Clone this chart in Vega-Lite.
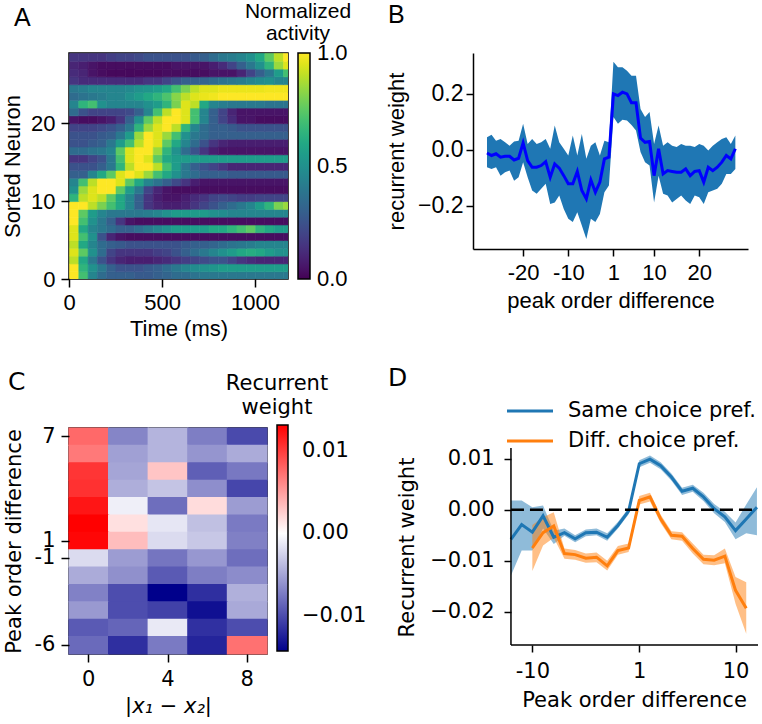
{
"$schema":"https://vega.github.io/schema/vega-lite/v6.json",
"background":"white",
"padding":{"left":0,"top":0,"right":0,"bottom":0},
"config":{"view":{"stroke":null},"axis":{"grid":false,"domainColor":"black","tickColor":"black","labelColor":"black","titleColor":"black","titleFontWeight":"normal","domainWidth":1.5,"tickWidth":1.5,"tickSize":8},"legend":{"labelColor":"black","titleColor":"black","titleFontWeight":"normal"},"title":{"color":"black","fontWeight":"normal"}},
"columns":3,
"spacing":{"row":149,"column":10},
"bounds":"flush",
"align":"each",
"concat":[
{"width":219,"height":226,
"view":{"stroke":"black","strokeWidth":1.5},
"title":{"text":"A","anchor":"start","frame":"group","font":"Liberation Sans","fontSize":25,"dx":-55,"dy":30,"offset":0},
"data":{"values":[
{"t":0,"n":0,"v":1},{"t":50,"n":0,"v":0.7},{"t":100,"n":0,"v":0.45},{"t":150,"n":0,"v":0.35},{"t":200,"n":0,"v":0.3},{"t":250,"n":0,"v":0.3},{"t":300,"n":0,"v":0.3},{"t":350,"n":0,"v":0.28},{"t":400,"n":0,"v":0.28},{"t":450,"n":0,"v":0.3},{"t":500,"n":0,"v":0.32},{"t":550,"n":0,"v":0.35},{"t":600,"n":0,"v":0.35},{"t":650,"n":0,"v":0.38},{"t":700,"n":0,"v":0.4},{"t":750,"n":0,"v":0.4},{"t":800,"n":0,"v":0.4},{"t":850,"n":0,"v":0.4},{"t":900,"n":0,"v":0.4},{"t":950,"n":0,"v":0.4},{"t":1000,"n":0,"v":0.4},{"t":1050,"n":0,"v":0.4},{"t":1100,"n":0,"v":0.4},{"t":1150,"n":0,"v":0.4},
{"t":0,"n":1,"v":1},{"t":50,"n":1,"v":0.65},{"t":100,"n":1,"v":0.5},{"t":150,"n":1,"v":0.4},{"t":200,"n":1,"v":0.3},{"t":250,"n":1,"v":0.25},{"t":300,"n":1,"v":0.25},{"t":350,"n":1,"v":0.25},{"t":400,"n":1,"v":0.28},{"t":450,"n":1,"v":0.3},{"t":500,"n":1,"v":0.35},{"t":550,"n":1,"v":0.4},{"t":600,"n":1,"v":0.45},{"t":650,"n":1,"v":0.48},{"t":700,"n":1,"v":0.5},{"t":750,"n":1,"v":0.52},{"t":800,"n":1,"v":0.55},{"t":850,"n":1,"v":0.55},{"t":900,"n":1,"v":0.55},{"t":950,"n":1,"v":0.55},{"t":1000,"n":1,"v":0.55},{"t":1050,"n":1,"v":0.55},{"t":1100,"n":1,"v":0.55},{"t":1150,"n":1,"v":0.55},
{"t":0,"n":2,"v":0.9},{"t":50,"n":2,"v":0.6},{"t":100,"n":2,"v":0.4},{"t":150,"n":2,"v":0.25},{"t":200,"n":2,"v":0.15},{"t":250,"n":2,"v":0.1},{"t":300,"n":2,"v":0.08},{"t":350,"n":2,"v":0.08},{"t":400,"n":2,"v":0.08},{"t":450,"n":2,"v":0.1},{"t":500,"n":2,"v":0.12},{"t":550,"n":2,"v":0.15},{"t":600,"n":2,"v":0.18},{"t":650,"n":2,"v":0.2},{"t":700,"n":2,"v":0.22},{"t":750,"n":2,"v":0.25},{"t":800,"n":2,"v":0.25},{"t":850,"n":2,"v":0.2},{"t":900,"n":2,"v":0.15},{"t":950,"n":2,"v":0.12},{"t":1000,"n":2,"v":0.1},{"t":1050,"n":2,"v":0.1},{"t":1100,"n":2,"v":0.1},{"t":1150,"n":2,"v":0.1},
{"t":0,"n":3,"v":0.95},{"t":50,"n":3,"v":0.75},{"t":100,"n":3,"v":0.5},{"t":150,"n":3,"v":0.35},{"t":200,"n":3,"v":0.2},{"t":250,"n":3,"v":0.15},{"t":300,"n":3,"v":0.15},{"t":350,"n":3,"v":0.15},{"t":400,"n":3,"v":0.15},{"t":450,"n":3,"v":0.18},{"t":500,"n":3,"v":0.2},{"t":550,"n":3,"v":0.25},{"t":600,"n":3,"v":0.3},{"t":650,"n":3,"v":0.35},{"t":700,"n":3,"v":0.4},{"t":750,"n":3,"v":0.45},{"t":800,"n":3,"v":0.5},{"t":850,"n":3,"v":0.55},{"t":900,"n":3,"v":0.6},{"t":950,"n":3,"v":0.62},{"t":1000,"n":3,"v":0.6},{"t":1050,"n":3,"v":0.55},{"t":1100,"n":3,"v":0.5},{"t":1150,"n":3,"v":0.5},
{"t":0,"n":4,"v":0.9},{"t":50,"n":4,"v":0.6},{"t":100,"n":4,"v":0.45},{"t":150,"n":4,"v":0.35},{"t":200,"n":4,"v":0.3},{"t":250,"n":4,"v":0.28},{"t":300,"n":4,"v":0.25},{"t":350,"n":4,"v":0.25},{"t":400,"n":4,"v":0.25},{"t":450,"n":4,"v":0.25},{"t":500,"n":4,"v":0.25},{"t":550,"n":4,"v":0.25},{"t":600,"n":4,"v":0.28},{"t":650,"n":4,"v":0.3},{"t":700,"n":4,"v":0.3},{"t":750,"n":4,"v":0.32},{"t":800,"n":4,"v":0.35},{"t":850,"n":4,"v":0.38},{"t":900,"n":4,"v":0.4},{"t":950,"n":4,"v":0.42},{"t":1000,"n":4,"v":0.45},{"t":1050,"n":4,"v":0.45},{"t":1100,"n":4,"v":0.45},{"t":1150,"n":4,"v":0.45},
{"t":0,"n":5,"v":0.95},{"t":50,"n":5,"v":0.7},{"t":100,"n":5,"v":0.5},{"t":150,"n":5,"v":0.25},{"t":200,"n":5,"v":0.1},{"t":250,"n":5,"v":0.05},{"t":300,"n":5,"v":0.03},{"t":350,"n":5,"v":0.03},{"t":400,"n":5,"v":0.03},{"t":450,"n":5,"v":0.03},{"t":500,"n":5,"v":0.03},{"t":550,"n":5,"v":0.03},{"t":600,"n":5,"v":0.03},{"t":650,"n":5,"v":0.03},{"t":700,"n":5,"v":0.03},{"t":750,"n":5,"v":0.03},{"t":800,"n":5,"v":0.03},{"t":850,"n":5,"v":0.03},{"t":900,"n":5,"v":0.03},{"t":950,"n":5,"v":0.03},{"t":1000,"n":5,"v":0.03},{"t":1050,"n":5,"v":0.03},{"t":1100,"n":5,"v":0.03},{"t":1150,"n":5,"v":0.03},
{"t":0,"n":6,"v":0.95},{"t":50,"n":6,"v":0.6},{"t":100,"n":6,"v":0.45},{"t":150,"n":6,"v":0.4},{"t":200,"n":6,"v":0.35},{"t":250,"n":6,"v":0.3},{"t":300,"n":6,"v":0.3},{"t":350,"n":6,"v":0.35},{"t":400,"n":6,"v":0.4},{"t":450,"n":6,"v":0.45},{"t":500,"n":6,"v":0.5},{"t":550,"n":6,"v":0.55},{"t":600,"n":6,"v":0.55},{"t":650,"n":6,"v":0.55},{"t":700,"n":6,"v":0.55},{"t":750,"n":6,"v":0.6},{"t":800,"n":6,"v":0.6},{"t":850,"n":6,"v":0.65},{"t":900,"n":6,"v":0.7},{"t":950,"n":6,"v":0.75},{"t":1000,"n":6,"v":0.65},{"t":1050,"n":6,"v":0.6},{"t":1100,"n":6,"v":0.55},{"t":1150,"n":6,"v":0.55},
{"t":0,"n":7,"v":1},{"t":50,"n":7,"v":0.7},{"t":100,"n":7,"v":0.5},{"t":150,"n":7,"v":0.4},{"t":200,"n":7,"v":0.3},{"t":250,"n":7,"v":0.15},{"t":300,"n":7,"v":0.05},{"t":350,"n":7,"v":0.03},{"t":400,"n":7,"v":0.03},{"t":450,"n":7,"v":0.03},{"t":500,"n":7,"v":0.03},{"t":550,"n":7,"v":0.03},{"t":600,"n":7,"v":0.03},{"t":650,"n":7,"v":0.03},{"t":700,"n":7,"v":0.03},{"t":750,"n":7,"v":0.03},{"t":800,"n":7,"v":0.03},{"t":850,"n":7,"v":0.03},{"t":900,"n":7,"v":0.03},{"t":950,"n":7,"v":0.03},{"t":1000,"n":7,"v":0.03},{"t":1050,"n":7,"v":0.03},{"t":1100,"n":7,"v":0.03},{"t":1150,"n":7,"v":0.03},
{"t":0,"n":8,"v":1},{"t":50,"n":8,"v":0.75},{"t":100,"n":8,"v":0.55},{"t":150,"n":8,"v":0.45},{"t":200,"n":8,"v":0.4},{"t":250,"n":8,"v":0.4},{"t":300,"n":8,"v":0.4},{"t":350,"n":8,"v":0.4},{"t":400,"n":8,"v":0.42},{"t":450,"n":8,"v":0.45},{"t":500,"n":8,"v":0.5},{"t":550,"n":8,"v":0.55},{"t":600,"n":8,"v":0.55},{"t":650,"n":8,"v":0.55},{"t":700,"n":8,"v":0.55},{"t":750,"n":8,"v":0.5},{"t":800,"n":8,"v":0.48},{"t":850,"n":8,"v":0.45},{"t":900,"n":8,"v":0.45},{"t":950,"n":8,"v":0.45},{"t":1000,"n":8,"v":0.45},{"t":1050,"n":8,"v":0.45},{"t":1100,"n":8,"v":0.45},{"t":1150,"n":8,"v":0.45},
{"t":0,"n":9,"v":1},{"t":50,"n":9,"v":1},{"t":100,"n":9,"v":0.9},{"t":150,"n":9,"v":0.8},{"t":200,"n":9,"v":0.7},{"t":250,"n":9,"v":0.6},{"t":300,"n":9,"v":0.45},{"t":350,"n":9,"v":0.3},{"t":400,"n":9,"v":0.15},{"t":450,"n":9,"v":0.1},{"t":500,"n":9,"v":0.08},{"t":550,"n":9,"v":0.08},{"t":600,"n":9,"v":0.1},{"t":650,"n":9,"v":0.15},{"t":700,"n":9,"v":0.2},{"t":750,"n":9,"v":0.25},{"t":800,"n":9,"v":0.3},{"t":850,"n":9,"v":0.35},{"t":900,"n":9,"v":0.4},{"t":950,"n":9,"v":0.45},{"t":1000,"n":9,"v":0.55},{"t":1050,"n":9,"v":0.65},{"t":1100,"n":9,"v":0.8},{"t":1150,"n":9,"v":0.85},
{"t":0,"n":10,"v":0.65},{"t":50,"n":10,"v":0.9},{"t":100,"n":10,"v":0.95},{"t":150,"n":10,"v":0.9},{"t":200,"n":10,"v":0.75},{"t":250,"n":10,"v":0.6},{"t":300,"n":10,"v":0.45},{"t":350,"n":10,"v":0.3},{"t":400,"n":10,"v":0.15},{"t":450,"n":10,"v":0.08},{"t":500,"n":10,"v":0.05},{"t":550,"n":10,"v":0.05},{"t":600,"n":10,"v":0.08},{"t":650,"n":10,"v":0.12},{"t":700,"n":10,"v":0.15},{"t":750,"n":10,"v":0.2},{"t":800,"n":10,"v":0.22},{"t":850,"n":10,"v":0.2},{"t":900,"n":10,"v":0.18},{"t":950,"n":10,"v":0.18},{"t":1000,"n":10,"v":0.2},{"t":1050,"n":10,"v":0.2},{"t":1100,"n":10,"v":0.2},{"t":1150,"n":10,"v":0.2},
{"t":0,"n":11,"v":0.5},{"t":50,"n":11,"v":0.85},{"t":100,"n":11,"v":0.95},{"t":150,"n":11,"v":1},{"t":200,"n":11,"v":1},{"t":250,"n":11,"v":0.75},{"t":300,"n":11,"v":0.55},{"t":350,"n":11,"v":0.4},{"t":400,"n":11,"v":0.2},{"t":450,"n":11,"v":0.1},{"t":500,"n":11,"v":0.05},{"t":550,"n":11,"v":0.03},{"t":600,"n":11,"v":0.03},{"t":650,"n":11,"v":0.03},{"t":700,"n":11,"v":0.03},{"t":750,"n":11,"v":0.03},{"t":800,"n":11,"v":0.03},{"t":850,"n":11,"v":0.03},{"t":900,"n":11,"v":0.03},{"t":950,"n":11,"v":0.03},{"t":1000,"n":11,"v":0.03},{"t":1050,"n":11,"v":0.03},{"t":1100,"n":11,"v":0.03},{"t":1150,"n":11,"v":0.03},
{"t":0,"n":12,"v":0.45},{"t":50,"n":12,"v":0.7},{"t":100,"n":12,"v":0.9},{"t":150,"n":12,"v":1},{"t":200,"n":12,"v":1},{"t":250,"n":12,"v":0.95},{"t":300,"n":12,"v":0.75},{"t":350,"n":12,"v":0.6},{"t":400,"n":12,"v":0.45},{"t":450,"n":12,"v":0.38},{"t":500,"n":12,"v":0.3},{"t":550,"n":12,"v":0.22},{"t":600,"n":12,"v":0.15},{"t":650,"n":12,"v":0.08},{"t":700,"n":12,"v":0.05},{"t":750,"n":12,"v":0.05},{"t":800,"n":12,"v":0.05},{"t":850,"n":12,"v":0.05},{"t":900,"n":12,"v":0.05},{"t":950,"n":12,"v":0.05},{"t":1000,"n":12,"v":0.05},{"t":1050,"n":12,"v":0.05},{"t":1100,"n":12,"v":0.05},{"t":1150,"n":12,"v":0.05},
{"t":0,"n":13,"v":0.3},{"t":50,"n":13,"v":0.3},{"t":100,"n":13,"v":0.45},{"t":150,"n":13,"v":0.6},{"t":200,"n":13,"v":0.75},{"t":250,"n":13,"v":0.95},{"t":300,"n":13,"v":1},{"t":350,"n":13,"v":0.95},{"t":400,"n":13,"v":0.85},{"t":450,"n":13,"v":0.7},{"t":500,"n":13,"v":0.6},{"t":550,"n":13,"v":0.5},{"t":600,"n":13,"v":0.4},{"t":650,"n":13,"v":0.35},{"t":700,"n":13,"v":0.3},{"t":750,"n":13,"v":0.3},{"t":800,"n":13,"v":0.3},{"t":850,"n":13,"v":0.28},{"t":900,"n":13,"v":0.28},{"t":950,"n":13,"v":0.28},{"t":1000,"n":13,"v":0.28},{"t":1050,"n":13,"v":0.28},{"t":1100,"n":13,"v":0.28},{"t":1150,"n":13,"v":0.28},
{"t":0,"n":14,"v":0.25},{"t":50,"n":14,"v":0.25},{"t":100,"n":14,"v":0.25},{"t":150,"n":14,"v":0.3},{"t":200,"n":14,"v":0.4},{"t":250,"n":14,"v":0.65},{"t":300,"n":14,"v":0.9},{"t":350,"n":14,"v":1},{"t":400,"n":14,"v":1},{"t":450,"n":14,"v":0.9},{"t":500,"n":14,"v":0.7},{"t":550,"n":14,"v":0.55},{"t":600,"n":14,"v":0.4},{"t":650,"n":14,"v":0.3},{"t":700,"n":14,"v":0.25},{"t":750,"n":14,"v":0.2},{"t":800,"n":14,"v":0.15},{"t":850,"n":14,"v":0.1},{"t":900,"n":14,"v":0.1},{"t":950,"n":14,"v":0.1},{"t":1000,"n":14,"v":0.1},{"t":1050,"n":14,"v":0.1},{"t":1100,"n":14,"v":0.1},{"t":1150,"n":14,"v":0.1},
{"t":0,"n":15,"v":0.15},{"t":50,"n":15,"v":0.15},{"t":100,"n":15,"v":0.2},{"t":150,"n":15,"v":0.25},{"t":200,"n":15,"v":0.4},{"t":250,"n":15,"v":0.7},{"t":300,"n":15,"v":0.95},{"t":350,"n":15,"v":1},{"t":400,"n":15,"v":0.95},{"t":450,"n":15,"v":0.75},{"t":500,"n":15,"v":0.6},{"t":550,"n":15,"v":0.55},{"t":600,"n":15,"v":0.55},{"t":650,"n":15,"v":0.55},{"t":700,"n":15,"v":0.55},{"t":750,"n":15,"v":0.55},{"t":800,"n":15,"v":0.55},{"t":850,"n":15,"v":0.55},{"t":900,"n":15,"v":0.55},{"t":950,"n":15,"v":0.55},{"t":1000,"n":15,"v":0.55},{"t":1050,"n":15,"v":0.55},{"t":1100,"n":15,"v":0.55},{"t":1150,"n":15,"v":0.55},
{"t":0,"n":16,"v":0.35},{"t":50,"n":16,"v":0.35},{"t":100,"n":16,"v":0.38},{"t":150,"n":16,"v":0.4},{"t":200,"n":16,"v":0.45},{"t":250,"n":16,"v":0.75},{"t":300,"n":16,"v":0.95},{"t":350,"n":16,"v":1},{"t":400,"n":16,"v":1},{"t":450,"n":16,"v":0.85},{"t":500,"n":16,"v":0.65},{"t":550,"n":16,"v":0.5},{"t":600,"n":16,"v":0.35},{"t":650,"n":16,"v":0.25},{"t":700,"n":16,"v":0.15},{"t":750,"n":16,"v":0.08},{"t":800,"n":16,"v":0.05},{"t":850,"n":16,"v":0.05},{"t":900,"n":16,"v":0.05},{"t":950,"n":16,"v":0.05},{"t":1000,"n":16,"v":0.05},{"t":1050,"n":16,"v":0.05},{"t":1100,"n":16,"v":0.05},{"t":1150,"n":16,"v":0.05},
{"t":0,"n":17,"v":0.25},{"t":50,"n":17,"v":0.25},{"t":100,"n":17,"v":0.28},{"t":150,"n":17,"v":0.3},{"t":200,"n":17,"v":0.4},{"t":250,"n":17,"v":0.55},{"t":300,"n":17,"v":0.7},{"t":350,"n":17,"v":0.9},{"t":400,"n":17,"v":1},{"t":450,"n":17,"v":0.95},{"t":500,"n":17,"v":0.75},{"t":550,"n":17,"v":0.6},{"t":600,"n":17,"v":0.45},{"t":650,"n":17,"v":0.35},{"t":700,"n":17,"v":0.25},{"t":750,"n":17,"v":0.15},{"t":800,"n":17,"v":0.1},{"t":850,"n":17,"v":0.08},{"t":900,"n":17,"v":0.08},{"t":950,"n":17,"v":0.08},{"t":1000,"n":17,"v":0.08},{"t":1050,"n":17,"v":0.08},{"t":1100,"n":17,"v":0.08},{"t":1150,"n":17,"v":0.08},
{"t":0,"n":18,"v":0.25},{"t":50,"n":18,"v":0.25},{"t":100,"n":18,"v":0.25},{"t":150,"n":18,"v":0.28},{"t":200,"n":18,"v":0.3},{"t":250,"n":18,"v":0.4},{"t":300,"n":18,"v":0.55},{"t":350,"n":18,"v":0.85},{"t":400,"n":18,"v":1},{"t":450,"n":18,"v":0.95},{"t":500,"n":18,"v":0.85},{"t":550,"n":18,"v":0.7},{"t":600,"n":18,"v":0.5},{"t":650,"n":18,"v":0.4},{"t":700,"n":18,"v":0.35},{"t":750,"n":18,"v":0.3},{"t":800,"n":18,"v":0.3},{"t":850,"n":18,"v":0.3},{"t":900,"n":18,"v":0.3},{"t":950,"n":18,"v":0.3},{"t":1000,"n":18,"v":0.3},{"t":1050,"n":18,"v":0.3},{"t":1100,"n":18,"v":0.3},{"t":1150,"n":18,"v":0.3},
{"t":0,"n":19,"v":0.2},{"t":50,"n":19,"v":0.2},{"t":100,"n":19,"v":0.2},{"t":150,"n":19,"v":0.22},{"t":200,"n":19,"v":0.25},{"t":250,"n":19,"v":0.3},{"t":300,"n":19,"v":0.4},{"t":350,"n":19,"v":0.65},{"t":400,"n":19,"v":0.85},{"t":450,"n":19,"v":0.95},{"t":500,"n":19,"v":1},{"t":550,"n":19,"v":0.9},{"t":600,"n":19,"v":0.65},{"t":650,"n":19,"v":0.45},{"t":700,"n":19,"v":0.35},{"t":750,"n":19,"v":0.3},{"t":800,"n":19,"v":0.3},{"t":850,"n":19,"v":0.28},{"t":900,"n":19,"v":0.25},{"t":950,"n":19,"v":0.25},{"t":1000,"n":19,"v":0.25},{"t":1050,"n":19,"v":0.25},{"t":1100,"n":19,"v":0.25},{"t":1150,"n":19,"v":0.25},
{"t":0,"n":20,"v":0.05},{"t":50,"n":20,"v":0.03},{"t":100,"n":20,"v":0.03},{"t":150,"n":20,"v":0.05},{"t":200,"n":20,"v":0.08},{"t":250,"n":20,"v":0.15},{"t":300,"n":20,"v":0.3},{"t":350,"n":20,"v":0.5},{"t":400,"n":20,"v":0.75},{"t":450,"n":20,"v":0.9},{"t":500,"n":20,"v":1},{"t":550,"n":20,"v":1},{"t":600,"n":20,"v":0.95},{"t":650,"n":20,"v":0.7},{"t":700,"n":20,"v":0.45},{"t":750,"n":20,"v":0.3},{"t":800,"n":20,"v":0.2},{"t":850,"n":20,"v":0.12},{"t":900,"n":20,"v":0.05},{"t":950,"n":20,"v":0.05},{"t":1000,"n":20,"v":0.03},{"t":1050,"n":20,"v":0.03},{"t":1100,"n":20,"v":0.03},{"t":1150,"n":20,"v":0.03},
{"t":0,"n":21,"v":0.35},{"t":50,"n":21,"v":0.25},{"t":100,"n":21,"v":0.2},{"t":150,"n":21,"v":0.2},{"t":200,"n":21,"v":0.2},{"t":250,"n":21,"v":0.2},{"t":300,"n":21,"v":0.22},{"t":350,"n":21,"v":0.3},{"t":400,"n":21,"v":0.45},{"t":450,"n":21,"v":0.7},{"t":500,"n":21,"v":0.9},{"t":550,"n":21,"v":1},{"t":600,"n":21,"v":0.95},{"t":650,"n":21,"v":0.7},{"t":700,"n":21,"v":0.45},{"t":750,"n":21,"v":0.3},{"t":800,"n":21,"v":0.2},{"t":850,"n":21,"v":0.1},{"t":900,"n":21,"v":0.05},{"t":950,"n":21,"v":0.05},{"t":1000,"n":21,"v":0.05},{"t":1050,"n":21,"v":0.05},{"t":1100,"n":21,"v":0.05},{"t":1150,"n":21,"v":0.05},
{"t":0,"n":22,"v":0.45},{"t":50,"n":22,"v":0.65},{"t":100,"n":22,"v":0.7},{"t":150,"n":22,"v":0.5},{"t":200,"n":22,"v":0.45},{"t":250,"n":22,"v":0.45},{"t":300,"n":22,"v":0.45},{"t":350,"n":22,"v":0.45},{"t":400,"n":22,"v":0.5},{"t":450,"n":22,"v":0.55},{"t":500,"n":22,"v":0.65},{"t":550,"n":22,"v":0.8},{"t":600,"n":22,"v":0.95},{"t":650,"n":22,"v":0.9},{"t":700,"n":22,"v":0.6},{"t":750,"n":22,"v":0.45},{"t":800,"n":22,"v":0.42},{"t":850,"n":22,"v":0.4},{"t":900,"n":22,"v":0.4},{"t":950,"n":22,"v":0.4},{"t":1000,"n":22,"v":0.4},{"t":1050,"n":22,"v":0.38},{"t":1100,"n":22,"v":0.38},{"t":1150,"n":22,"v":0.38},
{"t":0,"n":23,"v":0.35},{"t":50,"n":23,"v":0.38},{"t":100,"n":23,"v":0.4},{"t":150,"n":23,"v":0.42},{"t":200,"n":23,"v":0.45},{"t":250,"n":23,"v":0.45},{"t":300,"n":23,"v":0.5},{"t":350,"n":23,"v":0.55},{"t":400,"n":23,"v":0.6},{"t":450,"n":23,"v":0.65},{"t":500,"n":23,"v":0.72},{"t":550,"n":23,"v":0.82},{"t":600,"n":23,"v":0.9},{"t":650,"n":23,"v":0.95},{"t":700,"n":23,"v":0.97},{"t":750,"n":23,"v":0.98},{"t":800,"n":23,"v":1},{"t":850,"n":23,"v":1},{"t":900,"n":23,"v":1},{"t":950,"n":23,"v":1},{"t":1000,"n":23,"v":1},{"t":1050,"n":23,"v":1},{"t":1100,"n":23,"v":1},{"t":1150,"n":23,"v":1},
{"t":0,"n":24,"v":0.4},{"t":50,"n":24,"v":0.42},{"t":100,"n":24,"v":0.45},{"t":150,"n":24,"v":0.45},{"t":200,"n":24,"v":0.45},{"t":250,"n":24,"v":0.45},{"t":300,"n":24,"v":0.47},{"t":350,"n":24,"v":0.5},{"t":400,"n":24,"v":0.52},{"t":450,"n":24,"v":0.55},{"t":500,"n":24,"v":0.6},{"t":550,"n":24,"v":0.7},{"t":600,"n":24,"v":0.8},{"t":650,"n":24,"v":0.9},{"t":700,"n":24,"v":0.95},{"t":750,"n":24,"v":0.95},{"t":800,"n":24,"v":0.97},{"t":850,"n":24,"v":0.97},{"t":900,"n":24,"v":0.97},{"t":950,"n":24,"v":0.97},{"t":1000,"n":24,"v":0.97},{"t":1050,"n":24,"v":0.98},{"t":1100,"n":24,"v":0.98},{"t":1150,"n":24,"v":0.98},
{"t":0,"n":25,"v":0.15},{"t":50,"n":25,"v":0.12},{"t":100,"n":25,"v":0.12},{"t":150,"n":25,"v":0.12},{"t":200,"n":25,"v":0.12},{"t":250,"n":25,"v":0.12},{"t":300,"n":25,"v":0.12},{"t":350,"n":25,"v":0.12},{"t":400,"n":25,"v":0.15},{"t":450,"n":25,"v":0.15},{"t":500,"n":25,"v":0.2},{"t":550,"n":25,"v":0.25},{"t":600,"n":25,"v":0.3},{"t":650,"n":25,"v":0.3},{"t":700,"n":25,"v":0.32},{"t":750,"n":25,"v":0.35},{"t":800,"n":25,"v":0.38},{"t":850,"n":25,"v":0.4},{"t":900,"n":25,"v":0.42},{"t":950,"n":25,"v":0.45},{"t":1000,"n":25,"v":0.48},{"t":1050,"n":25,"v":0.5},{"t":1100,"n":25,"v":0.45},{"t":1150,"n":25,"v":0.45},
{"t":0,"n":26,"v":0.12},{"t":50,"n":26,"v":0.1},{"t":100,"n":26,"v":0.05},{"t":150,"n":26,"v":0.03},{"t":200,"n":26,"v":0.02},{"t":250,"n":26,"v":0.02},{"t":300,"n":26,"v":0.02},{"t":350,"n":26,"v":0.02},{"t":400,"n":26,"v":0.02},{"t":450,"n":26,"v":0.02},{"t":500,"n":26,"v":0.03},{"t":550,"n":26,"v":0.03},{"t":600,"n":26,"v":0.03},{"t":650,"n":26,"v":0.03},{"t":700,"n":26,"v":0.03},{"t":750,"n":26,"v":0.05},{"t":800,"n":26,"v":0.05},{"t":850,"n":26,"v":0.05},{"t":900,"n":26,"v":0.1},{"t":950,"n":26,"v":0.2},{"t":1000,"n":26,"v":0.3},{"t":1050,"n":26,"v":0.4},{"t":1100,"n":26,"v":0.55},{"t":1150,"n":26,"v":0.7},
{"t":0,"n":27,"v":0.1},{"t":50,"n":27,"v":0.08},{"t":100,"n":27,"v":0.05},{"t":150,"n":27,"v":0.03},{"t":200,"n":27,"v":0.03},{"t":250,"n":27,"v":0.03},{"t":300,"n":27,"v":0.03},{"t":350,"n":27,"v":0.03},{"t":400,"n":27,"v":0.03},{"t":450,"n":27,"v":0.03},{"t":500,"n":27,"v":0.03},{"t":550,"n":27,"v":0.05},{"t":600,"n":27,"v":0.05},{"t":650,"n":27,"v":0.05},{"t":700,"n":27,"v":0.05},{"t":750,"n":27,"v":0.08},{"t":800,"n":27,"v":0.12},{"t":850,"n":27,"v":0.2},{"t":900,"n":27,"v":0.3},{"t":950,"n":27,"v":0.4},{"t":1000,"n":27,"v":0.5},{"t":1050,"n":27,"v":0.65},{"t":1100,"n":27,"v":0.85},{"t":1150,"n":27,"v":0.95},
{"t":0,"n":28,"v":0.15},{"t":50,"n":28,"v":0.15},{"t":100,"n":28,"v":0.15},{"t":150,"n":28,"v":0.15},{"t":200,"n":28,"v":0.18},{"t":250,"n":28,"v":0.2},{"t":300,"n":28,"v":0.2},{"t":350,"n":28,"v":0.22},{"t":400,"n":28,"v":0.25},{"t":450,"n":28,"v":0.25},{"t":500,"n":28,"v":0.25},{"t":550,"n":28,"v":0.25},{"t":600,"n":28,"v":0.25},{"t":650,"n":28,"v":0.28},{"t":700,"n":28,"v":0.3},{"t":750,"n":28,"v":0.35},{"t":800,"n":28,"v":0.4},{"t":850,"n":28,"v":0.42},{"t":900,"n":28,"v":0.45},{"t":950,"n":28,"v":0.5},{"t":1000,"n":28,"v":0.6},{"t":1050,"n":28,"v":0.75},{"t":1100,"n":28,"v":0.9},{"t":1150,"n":28,"v":1}
]},
"mark":{"type":"rect","clip":true,"strokeWidth":0.6},
"encoding":{
"x":{"field":"t","type":"quantitative","bin":{"binned":true,"step":50},"scale":{"domain":[0,1177],"nice":false,"zero":false},"axis":{"domain":false,"values":[0,500,1000],"format":"d","title":"Time (ms)","labelFont":"Liberation Sans","titleFont":"Liberation Sans","labelFontSize":22,"titleFontSize":22,"labelPadding":5,"titlePadding":5,"labelFlush":false}},
"y":{"field":"n","type":"quantitative","bin":{"binned":true,"step":1},"scale":{"domain":[0,29],"nice":false,"zero":false},"axis":{"domain":false,"values":[0,10,20],"format":"d","title":"Sorted Neuron","labelFont":"Liberation Sans","titleFont":"Liberation Sans","labelFontSize":22,"titleFontSize":22,"labelPadding":6,"titlePadding":6,"labelFlush":false}},
"color":{"field":"v","type":"quantitative","scale":{"scheme":"viridis","domain":[0,1]},"legend":{"orient":"none","legendX":176,"legendY":-52,"direction":"vertical","gradientLength":226,"gradientThickness":12,"gradientStrokeColor":"black","gradientStrokeWidth":1.5,"values":[0.0001,0.5,0.9999],"format":".1f","labelFont":"Liberation Sans","labelFontSize":22,"labelOffset":7,"title":["Normalized","activity"],"titleFont":"Liberation Sans","titleFontSize":21,"titleAlign":"center","titleAnchor":"start","titlePadding":9,"titleLineHeight":22}},
"stroke":{"field":"v","type":"quantitative","scale":{"scheme":"viridis","domain":[0,1]},"legend":null}
}},
{"width":165,"height":10,"data":{"values":[]},"mark":"point"},
{"width":275,"height":196,
"title":{"text":"B","anchor":"start","frame":"group","font":"Liberation Sans","fontSize":25,"dx":-85,"dy":-25,"offset":0},
"data":{"values":[
{"p":-28,"m":-0.011,"lo":-0.062,"hi":0.045},{"p":-27,"m":-0.02,"lo":-0.068,"hi":0.054},{"p":-26,"m":-0.014,"lo":-0.062,"hi":0.033},{"p":-25,"m":-0.026,"lo":-0.092,"hi":0.039},{"p":-24,"m":-0.023,"lo":-0.08,"hi":0.027},{"p":-23,"m":-0.023,"lo":-0.074,"hi":0.015},{"p":-22,"m":-0.036,"lo":-0.11,"hi":0.03},{"p":-21,"m":-0.03,"lo":-0.098,"hi":0.033},{"p":-20,"m":0.025,"lo":-0.044,"hi":0.093},{"p":-19,"m":-0.038,"lo":-0.098,"hi":0.021},{"p":-18,"m":-0.062,"lo":-0.145,"hi":0.039},{"p":-17,"m":-0.062,"lo":-0.157,"hi":0.021},{"p":-16,"m":-0.056,"lo":-0.139,"hi":0.027},{"p":-15,"m":-0.042,"lo":-0.121,"hi":0.039},{"p":-14,"m":-0.098,"lo":-0.193,"hi":0.004},{"p":-13,"m":-0.05,"lo":-0.188,"hi":0.087},{"p":-12,"m":-0.065,"lo":-0.163,"hi":0.027},{"p":-11,"m":-0.092,"lo":-0.211,"hi":0.004},{"p":-10,"m":-0.121,"lo":-0.246,"hi":-0.02},{"p":-9,"m":-0.121,"lo":-0.258,"hi":0.051},{"p":-8,"m":-0.077,"lo":-0.223,"hi":-0.02},{"p":-7,"m":-0.145,"lo":-0.27,"hi":0.057},{"p":-6,"m":-0.175,"lo":-0.318,"hi":-0.032},{"p":-5,"m":-0.107,"lo":-0.246,"hi":0.015},{"p":-4,"m":-0.151,"lo":-0.258,"hi":0.027},{"p":-3,"m":-0.115,"lo":-0.229,"hi":-0.02},{"p":-2,"m":-0.032,"lo":-0.151,"hi":0.033},{"p":-1,"m":-0.026,"lo":-0.127,"hi":0.027},{"p":0,"m":0.2,"lo":0.117,"hi":0.315},{"p":1,"m":0.194,"lo":0.093,"hi":0.295},{"p":2,"m":0.206,"lo":0.108,"hi":0.295},{"p":3,"m":0.2,"lo":0.105,"hi":0.283},{"p":4,"m":0.168,"lo":0.089,"hi":0.265},{"p":5,"m":0.168,"lo":0.069,"hi":0.265},{"p":6,"m":0.042,"lo":-0.008,"hi":0.146},{"p":7,"m":0.027,"lo":-0.044,"hi":0.117},{"p":8,"m":0.03,"lo":-0.056,"hi":0.135},{"p":9,"m":-0.092,"lo":-0.188,"hi":0.021},{"p":10,"m":0.004,"lo":-0.092,"hi":0.087},{"p":11,"m":-0.086,"lo":-0.157,"hi":0.015},{"p":12,"m":-0.074,"lo":-0.163,"hi":0.027},{"p":13,"m":-0.077,"lo":-0.188,"hi":0.015},{"p":14,"m":-0.08,"lo":-0.175,"hi":0.01},{"p":15,"m":-0.08,"lo":-0.163,"hi":0.021},{"p":16,"m":-0.068,"lo":-0.181,"hi":0.015},{"p":17,"m":-0.092,"lo":-0.193,"hi":0.015},{"p":18,"m":-0.077,"lo":-0.163,"hi":0.01},{"p":19,"m":-0.074,"lo":-0.169,"hi":0.021},{"p":20,"m":-0.115,"lo":-0.193,"hi":0.015},{"p":21,"m":-0.062,"lo":-0.151,"hi":-0.002},{"p":22,"m":-0.074,"lo":-0.145,"hi":0.015},{"p":23,"m":-0.062,"lo":-0.139,"hi":0.027},{"p":24,"m":-0.044,"lo":-0.121,"hi":0.039},{"p":25,"m":-0.02,"lo":-0.086,"hi":0.045},{"p":26,"m":-0.032,"lo":-0.086,"hi":0.021},{"p":27,"m":0.004,"lo":-0.068,"hi":0.051}
]},
"encoding":{"x":{"field":"p","type":"quantitative","scale":{"domain":[-31.1,29.8],"nice":false,"zero":false},"axis":{"values":[-20,-10,0,9,19],"labelExpr":"datum.value >= 0 ? datum.value + 1 : datum.value","title":"peak order difference","labelFont":"Liberation Sans","titleFont":"Liberation Sans","labelFontSize":22,"titleFontSize":22,"tickSize":7,"labelPadding":6,"titlePadding":7,"labelFlush":false}}},
"layer":[
{"mark":{"type":"area","color":"#1f77b4","opacity":1},"encoding":{"y":{"field":"lo","type":"quantitative","scale":{"domain":[-0.354,0.346],"nice":false,"zero":false},"axis":{"values":[-0.2,0,0.2],"format":".1f","title":"recurrent weight","labelFont":"Liberation Sans","titleFont":"Liberation Sans","labelFontSize":23,"titleFontSize":22,"tickSize":7,"labelPadding":3,"titlePadding":9,"labelFlush":false}},"y2":{"field":"hi"}}},
{"mark":{"type":"line","color":"#0000ff","strokeWidth":3},"encoding":{"y":{"field":"m","type":"quantitative"}}}
]},
{"width":198,"height":226,
"view":{"stroke":"black","strokeWidth":1.5},
"title":{"text":"C","anchor":"start","frame":"group","font":"DejaVu Sans","fontSize":25,"dx":-61,"dy":22,"offset":0},
"data":{"values":[
{"x":0,"y":7,"w":0.0077},{"x":2,"y":7,"w":-0.0068},{"x":4,"y":7,"w":-0.0042},{"x":6,"y":7,"w":-0.0072},{"x":8,"y":7,"w":-0.0101},
{"x":0,"y":6,"w":0.0069},{"x":2,"y":6,"w":-0.0053},{"x":4,"y":6,"w":-0.0042},{"x":6,"y":6,"w":-0.0059},{"x":8,"y":6,"w":-0.0047},
{"x":0,"y":5,"w":0.0104},{"x":2,"y":5,"w":-0.005},{"x":4,"y":5,"w":0.003},{"x":6,"y":5,"w":-0.0089},{"x":8,"y":5,"w":-0.0075},
{"x":0,"y":4,"w":0.0106},{"x":2,"y":4,"w":-0.0045},{"x":4,"y":4,"w":-0.0033},{"x":6,"y":4,"w":-0.0063},{"x":8,"y":4,"w":-0.0103},
{"x":0,"y":3,"w":0.012},{"x":2,"y":3,"w":-0.0009},{"x":4,"y":3,"w":-0.0081},{"x":6,"y":3,"w":0.0018},{"x":8,"y":3,"w":-0.0055},
{"x":0,"y":2,"w":0.0131},{"x":2,"y":2,"w":0.0016},{"x":4,"y":2,"w":-0.0014},{"x":6,"y":2,"w":-0.0035},{"x":8,"y":2,"w":-0.0074},
{"x":0,"y":1,"w":0.0128},{"x":2,"y":1,"w":0.0034},{"x":4,"y":1,"w":-0.002},{"x":6,"y":1,"w":-0.0031},{"x":8,"y":1,"w":-0.0071},
{"x":0,"y":-1,"w":-0.002},{"x":2,"y":-1,"w":-0.0055},{"x":4,"y":-1,"w":-0.0077},{"x":6,"y":-1,"w":-0.0058},{"x":8,"y":-1,"w":-0.0081},
{"x":0,"y":-2,"w":-0.0047},{"x":2,"y":-2,"w":-0.0062},{"x":4,"y":-2,"w":-0.0092},{"x":6,"y":-2,"w":-0.0072},{"x":8,"y":-2,"w":-0.0064},
{"x":0,"y":-3,"w":-0.007},{"x":2,"y":-3,"w":-0.0099},{"x":4,"y":-3,"w":-0.0142},{"x":6,"y":-3,"w":-0.0116},{"x":8,"y":-3,"w":-0.0044},
{"x":0,"y":-4,"w":-0.0057},{"x":2,"y":-4,"w":-0.0099},{"x":4,"y":-4,"w":-0.0106},{"x":6,"y":-4,"w":-0.0133},{"x":8,"y":-4,"w":-0.0048},
{"x":0,"y":-5,"w":-0.0092},{"x":2,"y":-5,"w":-0.0086},{"x":4,"y":-5,"w":-0.0012},{"x":6,"y":-5,"w":-0.0115},{"x":8,"y":-5,"w":-0.0099},
{"x":0,"y":-6,"w":-0.0083},{"x":2,"y":-6,"w":-0.0116},{"x":4,"y":-6,"w":-0.0074},{"x":6,"y":-6,"w":-0.0122},{"x":8,"y":-6,"w":0.0073}
]},
"mark":{"type":"rect","width":{"band":1.03},"height":{"band":1.06}},
"encoding":{
"x":{"field":"x","type":"ordinal","scale":{"paddingInner":0,"paddingOuter":0},"axis":{"domain":false,"values":[0,4,8],"labelAngle":0,"title":"|x₁ − x₂|","titleFontStyle":"italic","labelFont":"DejaVu Sans","titleFont":"DejaVu Sans","labelFontSize":21,"titleFontSize":21,"labelPadding":6,"titlePadding":6}},
"y":{"field":"y","type":"ordinal","sort":[7,6,5,4,3,2,1,-1,-2,-3,-4,-5,-6],"scale":{"paddingInner":0,"paddingOuter":0},"axis":{"domain":false,"values":[7,1,-1,-6],"title":"Peak order difference","labelFont":"DejaVu Sans","titleFont":"DejaVu Sans","labelFontSize":21,"titleFontSize":21,"labelPadding":6,"titlePadding":10}},
"color":{"field":"w","type":"quantitative","scale":{"domain":[-0.0142,0,0.0131],"range":["#00008b","#ffffff","#ff0000"],"interpolate":"rgb"},"legend":{"orient":"none","legendX":157,"legendY":-55,"direction":"vertical","gradientLength":226,"gradientThickness":11,"gradientStrokeColor":"black","gradientStrokeWidth":1.5,"values":[-0.01,0,0.01],"format":".2f","labelFont":"DejaVu Sans","labelFontSize":21,"labelOffset":14,"title":["Recurrent","weight"],"titleFont":"DejaVu Sans","titleFontSize":21,"titleAlign":"center","titleAnchor":"start","titlePadding":7,"titleLineHeight":24}}
}},
{"width":165,"height":10,"data":{"values":[]},"mark":"point"},
{"width":285,"height":217,
"title":{"text":"D","anchor":"start","frame":"group","font":"DejaVu Sans","fontSize":25,"dx":-85,"dy":-7,"offset":0},
"layer":[
{"data":{"values":[
{"s":"Same choice pref.","p":-12,"m":-0.0058,"lo":-0.0129,"hi":0.0018},{"s":"Same choice pref.","p":-11,"m":-0.0029,"lo":-0.008,"hi":0.0018},{"s":"Same choice pref.","p":-10,"m":-0.0044,"lo":-0.008,"hi":0.0005},{"s":"Same choice pref.","p":-9,"m":-0.0012,"lo":-0.0037,"hi":0.0008},{"s":"Same choice pref.","p":-8,"m":-0.0054,"lo":-0.0067,"hi":-0.0041},{"s":"Same choice pref.","p":-7,"m":-0.0045,"lo":-0.0051,"hi":-0.0037},{"s":"Same choice pref.","p":-6,"m":-0.0057,"lo":-0.0064,"hi":-0.005},{"s":"Same choice pref.","p":-5,"m":-0.0045,"lo":-0.0052,"hi":-0.0039},{"s":"Same choice pref.","p":-4,"m":-0.0044,"lo":-0.005,"hi":-0.0037},{"s":"Same choice pref.","p":-3,"m":-0.0054,"lo":-0.0061,"hi":-0.0046},{"s":"Same choice pref.","p":-2,"m":-0.0031,"lo":-0.0037,"hi":-0.0024},{"s":"Same choice pref.","p":-1,"m":-0.0003,"lo":-0.0009,"hi":0.0003},{"s":"Same choice pref.","p":0,"m":0.009,"lo":0.0083,"hi":0.0097},{"s":"Same choice pref.","p":1,"m":0.0099,"lo":0.0092,"hi":0.0106},{"s":"Same choice pref.","p":2,"m":0.0086,"lo":0.0079,"hi":0.0093},{"s":"Same choice pref.","p":3,"m":0.0064,"lo":0.0057,"hi":0.0071},{"s":"Same choice pref.","p":4,"m":0.0036,"lo":0.0029,"hi":0.0043},{"s":"Same choice pref.","p":5,"m":0.0042,"lo":0.0035,"hi":0.0049},{"s":"Same choice pref.","p":6,"m":0.0025,"lo":0.0017,"hi":0.0033},{"s":"Same choice pref.","p":7,"m":0.0002,"lo":-0.0007,"hi":0.0011},{"s":"Same choice pref.","p":8,"m":-0.0014,"lo":-0.0024,"hi":-0.0004},{"s":"Same choice pref.","p":9,"m":-0.0041,"lo":-0.0058,"hi":-0.0025},{"s":"Same choice pref.","p":10,"m":-0.0018,"lo":-0.0046,"hi":0.001},{"s":"Same choice pref.","p":11,"m":0.0005,"lo":-0.005,"hi":0.0044},
{"s":"Diff. choice pref.","p":-10,"m":-0.0075,"lo":-0.012,"hi":-0.003},{"s":"Diff. choice pref.","p":-9,"m":-0.0045,"lo":-0.007,"hi":-0.0015},{"s":"Diff. choice pref.","p":-8,"m":-0.0032,"lo":-0.0055,"hi":-0.0005},{"s":"Diff. choice pref.","p":-7,"m":-0.0086,"lo":-0.0096,"hi":-0.0076},{"s":"Diff. choice pref.","p":-6,"m":-0.0088,"lo":-0.0098,"hi":-0.0079},{"s":"Diff. choice pref.","p":-5,"m":-0.0095,"lo":-0.0104,"hi":-0.0086},{"s":"Diff. choice pref.","p":-4,"m":-0.0093,"lo":-0.0103,"hi":-0.0084},{"s":"Diff. choice pref.","p":-3,"m":-0.011,"lo":-0.0119,"hi":-0.01},{"s":"Diff. choice pref.","p":-2,"m":-0.008,"lo":-0.0088,"hi":-0.0071},{"s":"Diff. choice pref.","p":-1,"m":-0.0075,"lo":-0.0083,"hi":-0.0066},{"s":"Diff. choice pref.","p":0,"m":0.0018,"lo":0.001,"hi":0.0027},{"s":"Diff. choice pref.","p":1,"m":0.0025,"lo":0.0016,"hi":0.0033},{"s":"Diff. choice pref.","p":2,"m":-0.0018,"lo":-0.0026,"hi":-0.001},{"s":"Diff. choice pref.","p":3,"m":-0.005,"lo":-0.0058,"hi":-0.0042},{"s":"Diff. choice pref.","p":4,"m":-0.0052,"lo":-0.0061,"hi":-0.0044},{"s":"Diff. choice pref.","p":5,"m":-0.0076,"lo":-0.0086,"hi":-0.0066},{"s":"Diff. choice pref.","p":6,"m":-0.0097,"lo":-0.0107,"hi":-0.0088},{"s":"Diff. choice pref.","p":7,"m":-0.0099,"lo":-0.0109,"hi":-0.0089},{"s":"Diff. choice pref.","p":8,"m":-0.0091,"lo":-0.0105,"hi":-0.0076},{"s":"Diff. choice pref.","p":9,"m":-0.0158,"lo":-0.0184,"hi":-0.0132},{"s":"Diff. choice pref.","p":10,"m":-0.0193,"lo":-0.0243,"hi":-0.0142}
]},
"resolve":{"legend":{"color":"independent"}},
"layer":[
{"mark":{"type":"area","opacity":0.5},"encoding":{"x":{"field":"p","type":"quantitative","scale":{"domain":[-15.55,11.1],"nice":false,"zero":false},"axis":{"domain":false,"values":[-10,0,9],"labelExpr":"datum.value >= 0 ? datum.value + 1 : datum.value","title":"Peak order difference","titleX":161,"labelFont":"DejaVu Sans","titleFont":"DejaVu Sans","labelFontSize":21,"titleFontSize":21,"tickSize":7,"labelPadding":8,"titlePadding":8,"labelFlush":false}},"y":{"field":"lo","type":"quantitative","scale":{"domain":[-0.0265,0.016],"nice":false,"zero":false},"axis":{"domain":false,"offset":-38,"values":[-0.02,-0.01,0,0.01],"format":".2f","title":"Recurrent weight","titleY":119,"labelFont":"DejaVu Sans","titleFont":"DejaVu Sans","labelFontSize":21,"titleFontSize":21,"tickSize":7,"labelPadding":10,"titlePadding":12,"labelFlush":false}},"y2":{"field":"hi"},"color":{"field":"s","type":"nominal","scale":{"domain":["Same choice pref.","Diff. choice pref."],"range":["#1f77b4","#ff7f0e"]},"legend":null}}},
{"mark":{"type":"line","strokeWidth":3},"encoding":{"x":{"field":"p","type":"quantitative"},"y":{"field":"m","type":"quantitative"},"color":{"field":"s","type":"nominal","legend":{"orient":"none","legendX":44,"legendY":-30,"direction":"vertical","title":null,"symbolType":"M-2,0L2,0","symbolSize":529,"symbolStrokeWidth":3,"labelFont":"DejaVu Sans","labelFontSize":21,"labelOffset":25,"rowPadding":7,"labelLimit":400}}}}
]},
{"data":{"values":[{}]},"mark":{"type":"rule","color":"black","strokeWidth":2.5,"strokeDash":[13,6]},"encoding":{"x":{"datum":-12},"x2":{"datum":11.1},"y":{"datum":0}}},
{"data":{"values":[{}]},"mark":{"type":"rule","color":"black","strokeWidth":1.5},"encoding":{"x":{"datum":-12},"y":{"datum":-0.0265},"y2":{"datum":0.0121}}},
{"data":{"values":[{}]},"mark":{"type":"rule","color":"black","strokeWidth":1.5},"encoding":{"x":{"datum":-12},"x2":{"datum":11.1},"y":{"datum":-0.0265}}}
]}
]
}
